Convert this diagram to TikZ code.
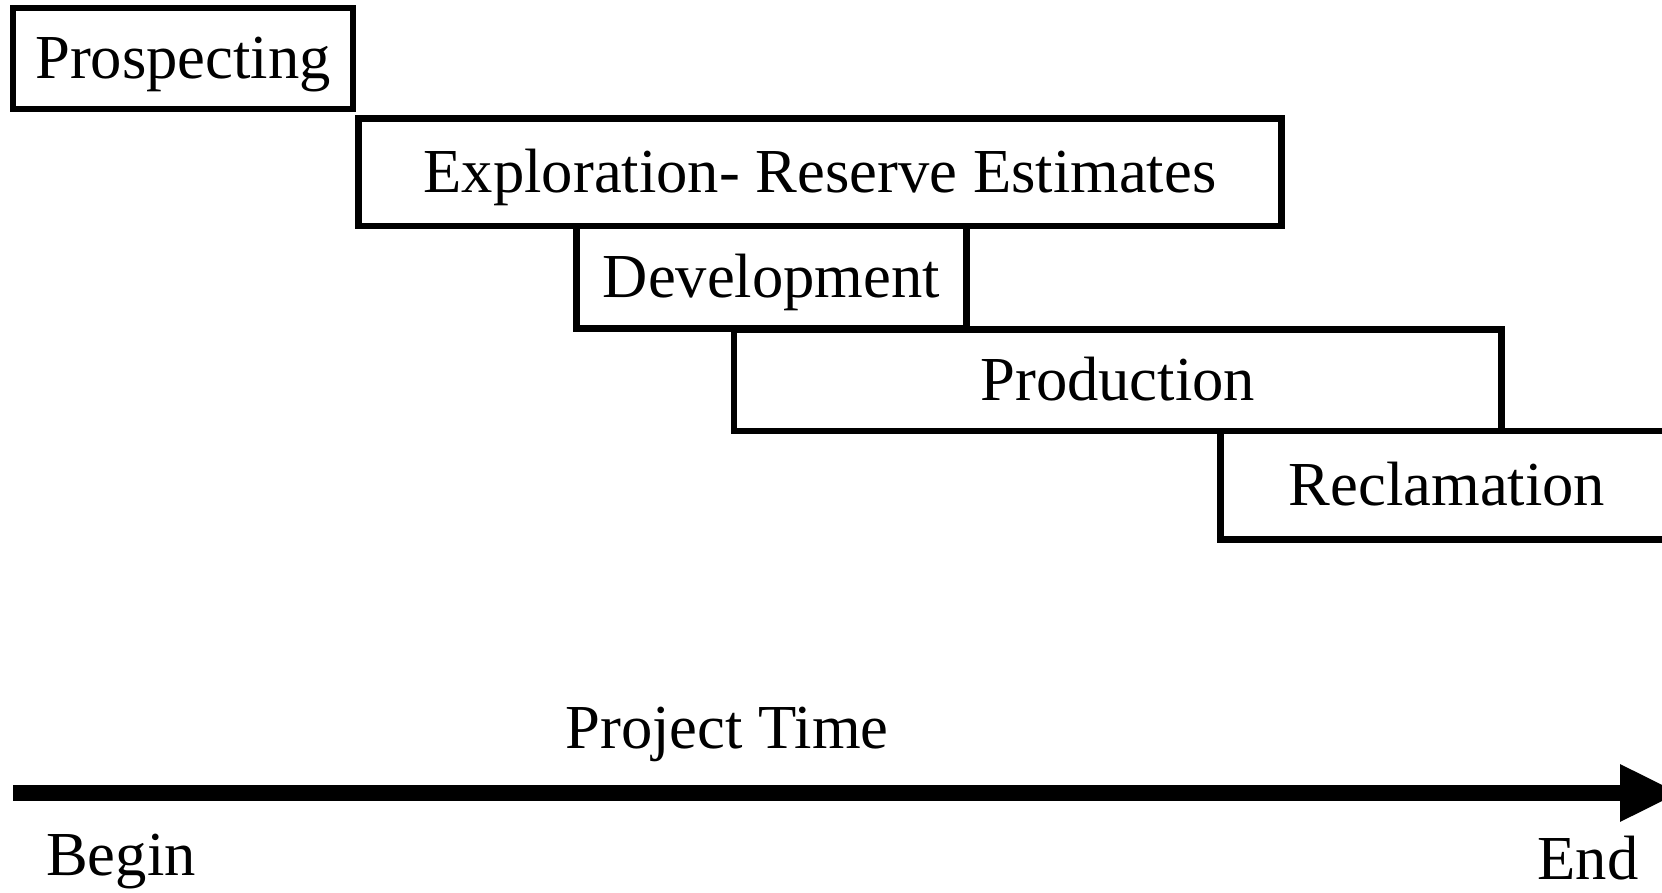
\documentclass[tikz,border=0pt]{standalone}
\usepackage{fontspec}
\setmainfont{Liberation Serif}
\usetikzlibrary{arrows.meta}

\tikzset{phase/.style={draw, line width=3.2pt, inner sep=0pt, outer sep=0pt,
    anchor=north west, text height=26pt, text depth=6pt}}

\begin{document}
\begin{tikzpicture}[x=0.5pt,y=-0.5pt,font=\fontsize{31.3}{37}\selectfont]
                \useasboundingbox (0,0) rectangle (1662,893);
                \node[phase, minimum width=170pt, minimum height=50.5pt] (prosp) at (13,8) {Prospecting};
                \node[phase, minimum width=461.5pt, minimum height=53.75pt] (explor) at (358.5,118.5) {Exploration- Reserve Estimates};
                \node[phase, minimum width=195pt, minimum height=51.25pt] (devel) at (576.5,226) {Development};
                \node[phase, minimum width=383.75pt, minimum height=50.75pt] (prod) at (734,329.5) {Production};
                \node[phase, minimum width=226.5pt, minimum height=54.25pt] (reclam) at (1220.5,431) {Reclamation};
                % time axis
                \coordinate (begin) at (13,793);
                \coordinate (end) at (1680,793);
                \draw[-{Triangle[length=30pt,width=26.5pt]}, line width=8pt] (begin) -- (end);
                \node[anchor=base] (ptime) at (727,748) {Project Time};
                \node[anchor=base] (blabel) at (121,875) {Begin};
                \node[anchor=base, inner sep=0pt] (elabel) at (1588,879) {End};
        \end{tikzpicture}
\end{document}
